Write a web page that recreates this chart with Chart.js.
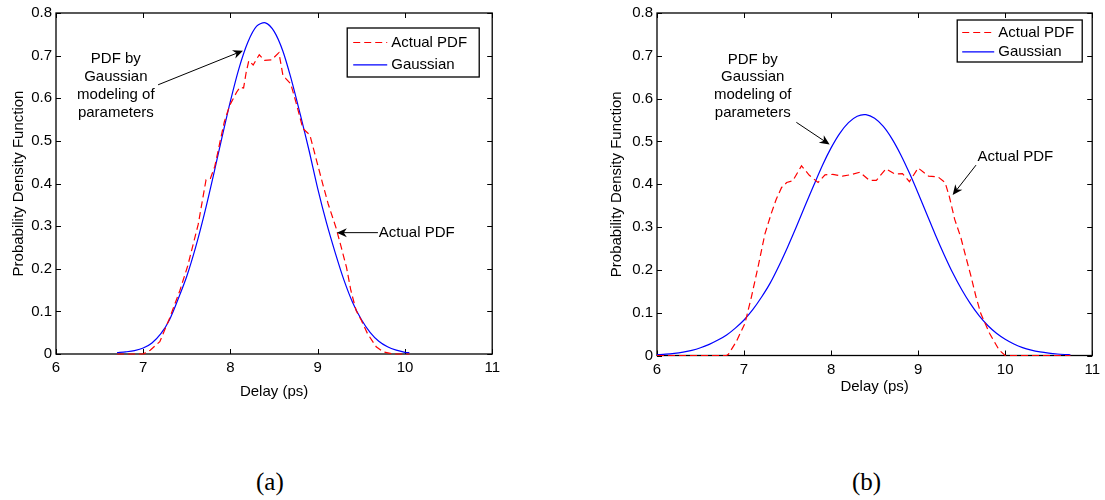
<!DOCTYPE html>
<html>
<head>
<meta charset="utf-8">
<title>Delay PDF</title>
<script src="https://cdn.jsdelivr.net/npm/chart.js@4.4.1/dist/chart.umd.min.js"></script>
<style>
  html, body { margin: 0; padding: 0; background: #fff; }
  body { width: 1105px; height: 500px; position: relative; overflow: hidden; }
  .panel { position: absolute; top: 0; }
  .caption {
    position: absolute; top: 467px; line-height: 30px;
    font-family: "Liberation Serif", "Times New Roman", serif; font-size: 25px; color: #000;
  }
</style>
</head>
<body>
<div class="panel" style="left:0"><canvas id="chartA" width="505" height="410"></canvas></div>
<div class="panel" style="left:600px"><canvas id="chartB" width="505" height="410"></canvas></div>
<div class="caption" style="left:256px">(a)</div>
<div class="caption" style="left:852px">(b)</div>

<script>
// ---- data ----
const xTicks = [6, 7, 8, 9, 10, 11];
const yTicks = [0, 0.1, 0.2, 0.3, 0.4, 0.5, 0.6, 0.7, 0.8];
const seriesNames = ['Actual PDF', 'Gaussian'];

// (a) Gaussian model
const gaussAx = [6.7, 6.8, 6.9, 7.0, 7.1, 7.2, 7.3, 7.4, 7.5, 7.6, 7.7, 7.8, 7.9, 8.0, 8.1, 8.2, 8.3, 8.4,
  8.5, 8.6, 8.7, 8.8, 8.9, 9.0, 9.1, 9.2, 9.3, 9.4, 9.5, 9.6, 9.7, 9.8, 9.9, 10.0, 10.05];
const gaussAy = [0.003, 0.005, 0.008, 0.014, 0.026, 0.047, 0.080, 0.129, 0.183, 0.250, 0.328, 0.415, 0.506, 0.594, 0.672, 0.732, 0.769, 0.777,
  0.757, 0.711, 0.642, 0.562, 0.478, 0.388, 0.308, 0.238, 0.174, 0.121, 0.081, 0.051, 0.030, 0.017, 0.009, 0.004, 0.003];

// (a) actual PDF
const actualAx = [6.7, 7.0, 7.08, 7.19, 7.30, 7.42, 7.51, 7.63, 7.72, 7.77, 7.82, 7.88, 7.93, 7.99, 8.07, 8.11, 8.15, 8.18,
  8.21, 8.26, 8.30, 8.33, 8.39, 8.47, 8.555, 8.60, 8.64, 8.69, 8.75, 8.83, 8.91, 8.98, 9.06, 9.12, 9.21, 9.27, 9.33,
  9.38, 9.44, 9.50, 9.57, 9.67, 9.75, 9.86, 10.05];
const actualAy = [0, 0, 0.009, 0.029, 0.083, 0.149, 0.207, 0.304, 0.409, 0.412, 0.440, 0.498, 0.545, 0.583, 0.614, 0.626, 0.624, 0.661,
  0.688, 0.678, 0.692, 0.702, 0.689, 0.690, 0.707, 0.655, 0.645, 0.634, 0.591, 0.529, 0.514, 0.459, 0.397, 0.352, 0.296, 0.250, 0.203,
  0.149, 0.102, 0.079, 0.048, 0.017, 0.005, 0, 0];

// (b) Gaussian model
const gaussBx = [6.0, 6.1, 6.2, 6.3, 6.4, 6.5, 6.6, 6.7, 6.8, 6.9, 7.0, 7.1, 7.2, 7.3, 7.4, 7.5, 7.6, 7.7, 7.8, 7.9,
  8.0, 8.1, 8.2, 8.3, 8.4, 8.5, 8.6, 8.7, 8.8, 8.9, 9.0, 9.1, 9.2, 9.3, 9.4, 9.5, 9.6, 9.7, 9.8, 9.9,
  10.0, 10.1, 10.2, 10.3, 10.4, 10.5, 10.6, 10.7, 10.75];
const gaussBy = [0.002, 0.003, 0.005, 0.008, 0.012, 0.018, 0.026, 0.036, 0.048, 0.064, 0.083, 0.107, 0.136, 0.169, 0.209, 0.253, 0.300, 0.349, 0.397, 0.444,
  0.485, 0.519, 0.544, 0.559, 0.5625, 0.554, 0.535, 0.506, 0.469, 0.426, 0.379, 0.330, 0.281, 0.235, 0.192, 0.154, 0.121, 0.093, 0.070, 0.052,
  0.038, 0.027, 0.0185, 0.0126, 0.0084, 0.0055, 0.0035, 0.0022, 0.0017];

// (b) actual PDF
const actualBx = [6.0, 6.8, 6.82, 6.91, 7.01, 7.085, 7.16, 7.24, 7.31, 7.37, 7.43, 7.49, 7.56, 7.66, 7.75, 7.85, 7.93, 8.02,
  8.13, 8.22, 8.33, 8.44, 8.52, 8.63, 8.73, 8.82, 8.90, 9.00, 9.12, 9.23, 9.31, 9.36, 9.42, 9.49, 9.55, 9.61, 9.665,
  9.72, 9.82, 9.93, 10.0, 10.75];
const actualBy = [0, 0, 0.003, 0.032, 0.075, 0.137, 0.206, 0.284, 0.330, 0.365, 0.392, 0.404, 0.408, 0.443, 0.421, 0.404, 0.422, 0.423,
  0.419, 0.422, 0.428, 0.409, 0.409, 0.436, 0.424, 0.425, 0.406, 0.438, 0.419, 0.417, 0.404, 0.370, 0.318, 0.276, 0.229, 0.183, 0.137,
  0.098, 0.052, 0.013, 0, 0];

const FONT = '"Liberation Sans", Arial, Helvetica, sans-serif';
Chart.defaults.font.family = FONT;
Chart.defaults.color = '#000';

function points(xs, ys) {
  return xs.map((x, i) => ({ x: x, y: ys[i] }));
}

function drawArrow(ctx, x1, y1, x2, y2) {
  const ang = Math.atan2(y2 - y1, x2 - x1);
  ctx.beginPath();
  ctx.moveTo(x1, y1);
  ctx.lineTo(x2 - 6 * Math.cos(ang), y2 - 6 * Math.sin(ang));
  ctx.stroke();
  ctx.save();
  ctx.translate(x2, y2);
  ctx.rotate(ang);
  ctx.beginPath();
  ctx.moveTo(0, 0);
  ctx.lineTo(-10, -4.5);
  ctx.lineTo(-7, 0);
  ctx.lineTo(-10, 4.5);
  ctx.closePath();
  ctx.fill();
  ctx.restore();
}

// box, inward ticks, legend and notes in the MATLAB look
const matlabAxes = {
  id: 'matlabAxes',
  beforeDatasetsDraw(chart) {
    const { ctx, chartArea: a, scales: { x, y } } = chart;
    ctx.save();
    ctx.strokeStyle = '#000';
    ctx.lineWidth = 1;
    ctx.beginPath();
    x.ticks.forEach(t => {
      const px = Math.round(x.getPixelForValue(t.value)) + 0.5;
      ctx.moveTo(px, a.bottom); ctx.lineTo(px, a.bottom - 5);
      ctx.moveTo(px, a.top); ctx.lineTo(px, a.top + 5);
    });
    y.ticks.forEach(t => {
      const py = Math.round(y.getPixelForValue(t.value)) + 0.5;
      ctx.moveTo(a.left, py); ctx.lineTo(a.left + 5, py);
      ctx.moveTo(a.right, py); ctx.lineTo(a.right - 5, py);
    });
    ctx.stroke();
    ctx.lineWidth = 1.3;
    ctx.strokeRect(a.left, a.top, a.width, a.height);
    ctx.restore();
  },
  afterDatasetsDraw(chart, args, opts) {
    const { ctx, chartArea: a, scales: { x, y } } = chart;
    ctx.save();
    ctx.strokeStyle = '#000';
    ctx.fillStyle = '#000';

    // notes with arrows
    ctx.font = '15px ' + FONT;
    ctx.textBaseline = 'middle';
    ctx.lineWidth = 1;
    opts.notes.forEach(n => {
      ctx.textAlign = n.align;
      const tx = x.getPixelForValue(n.x);
      const ty = y.getPixelForValue(n.y);
      n.lines.forEach((s, i) => ctx.fillText(s, tx, ty + i * n.lineGap));
      drawArrow(ctx, x.getPixelForValue(n.from[0]), y.getPixelForValue(n.from[1]),
        x.getPixelForValue(n.to[0]), y.getPixelForValue(n.to[1]));
    });

    // legend
    const L = opts.legend;
    const bx = a.right - L.right - L.width;
    const by = a.top + L.top;
    ctx.fillStyle = '#fff';
    ctx.fillRect(bx, by, L.width, L.height);
    ctx.strokeStyle = '#000';
    ctx.lineWidth = 1.3;
    ctx.strokeRect(bx, by, L.width, L.height);
    ctx.textAlign = 'left';
    chart.data.datasets.forEach((ds, i) => {
      const ry = by + L.first + i * L.gap;
      ctx.strokeStyle = ds.borderColor;
      ctx.lineWidth = ds.borderWidth;
      ctx.setLineDash(ds.borderDash || []);
      ctx.beginPath();
      ctx.moveTo(bx + L.lineFrom, ry);
      ctx.lineTo(bx + L.lineTo, ry);
      ctx.stroke();
      ctx.setLineDash([]);
      ctx.fillStyle = '#000';
      ctx.fillText(ds.label, bx + L.textAt, ry);
    });
    ctx.restore();
  }
};

function makeChart(id, cfg) {
  return new Chart(document.getElementById(id), {
    type: 'line',
    data: {
      datasets: [{
        label: seriesNames[0],
        data: points(cfg.actualX, cfg.actualY),
        borderColor: '#ff0000',
        borderWidth: 1.2,
        borderDash: [7, 4],
        pointRadius: 0,
        tension: 0,
        clip: false
      }, {
        label: seriesNames[1],
        data: points(cfg.gaussX, cfg.gaussY),
        borderColor: '#0000ff',
        borderWidth: 1.2,
        pointRadius: 0,
        tension: 0.3,
        clip: false
      }]
    },
    options: {
      responsive: false,
      animation: false,
      events: [],
      layout: { padding: { left: 0, top: cfg.top, right: 12, bottom: 0 } },
      plugins: {
        legend: { display: false },
        tooltip: { enabled: false },
        matlabAxes: { legend: cfg.legend, notes: cfg.notes }
      },
      scales: {
        x: {
          type: 'linear',
          min: 6, max: 11,
          grid: { display: false, drawTicks: false },
          border: { display: false },
          afterBuildTicks: s => { s.ticks = xTicks.map(v => ({ value: v })); },
          afterFit: s => { s.height = cfg.xAxisHeight; },
          ticks: { font: { size: 15 }, padding: 5, maxRotation: 0 },
          title: {
            display: true, text: 'Delay (ps)', font: { size: 15 },
            padding: { top: 0, bottom: cfg.xTitlePad }
          }
        },
        y: {
          min: 0, max: 0.8,
          grid: { display: false, drawTicks: false },
          border: { display: false },
          afterBuildTicks: s => { s.ticks = yTicks.map(v => ({ value: v })); },
          afterFit: s => { s.width = cfg.yAxisWidth; },
          ticks: { font: { size: 15 }, padding: 4 },
          title: {
            display: true, text: 'Probability Density Function', font: { size: 15 },
            padding: { top: cfg.yTitlePad, bottom: 0 }
          }
        }
      }
    },
    plugins: [matlabAxes]
  });
}

makeChart('chartA', {
  actualX: actualAx, actualY: actualAy, gaussX: gaussAx, gaussY: gaussAy,
  top: 10, xAxisHeight: 56, yAxisWidth: 56, xTitlePad: 9, yTitlePad: 10,
  legend: { right: 13, top: 15, width: 132, height: 49, first: 14.5, gap: 22.4, lineFrom: 6, lineTo: 40, textAt: 44 },
  notes: [
    { lines: ['PDF by', 'Gaussian', 'modeling of', 'parameters'], x: 6.686, y: 0.692, align: 'center', lineGap: 18,
      from: [7.17, 0.6315], to: [8.143, 0.7116] },
    { lines: ['Actual PDF'], x: 9.70, y: 0.2847, align: 'left', lineGap: 18,
      from: [9.69, 0.2847], to: [9.219, 0.2847] }
  ]
});

makeChart('chartB', {
  actualX: actualBx, actualY: actualBy, gaussX: gaussBx, gaussY: gaussBy,
  top: 11, xAxisHeight: 54.5, yAxisWidth: 57, xTitlePad: 14, yTitlePad: 8.3,
  legend: { right: 10, top: 7, width: 125, height: 42, first: 12.5, gap: 19.3, lineFrom: 5, lineTo: 37, textAt: 41 },
  notes: [
    { lines: ['PDF by', 'Gaussian', 'modeling of', 'parameters'], x: 7.10, y: 0.6916, align: 'center', lineGap: 17.7,
      from: [7.601, 0.5446], to: [7.983, 0.4928] },
    { lines: ['Actual PDF'], x: 10.117, y: 0.4644, align: 'center', lineGap: 18,
      from: [9.665, 0.4447], to: [9.397, 0.375] }
  ]
});
</script>
</body>
</html>
